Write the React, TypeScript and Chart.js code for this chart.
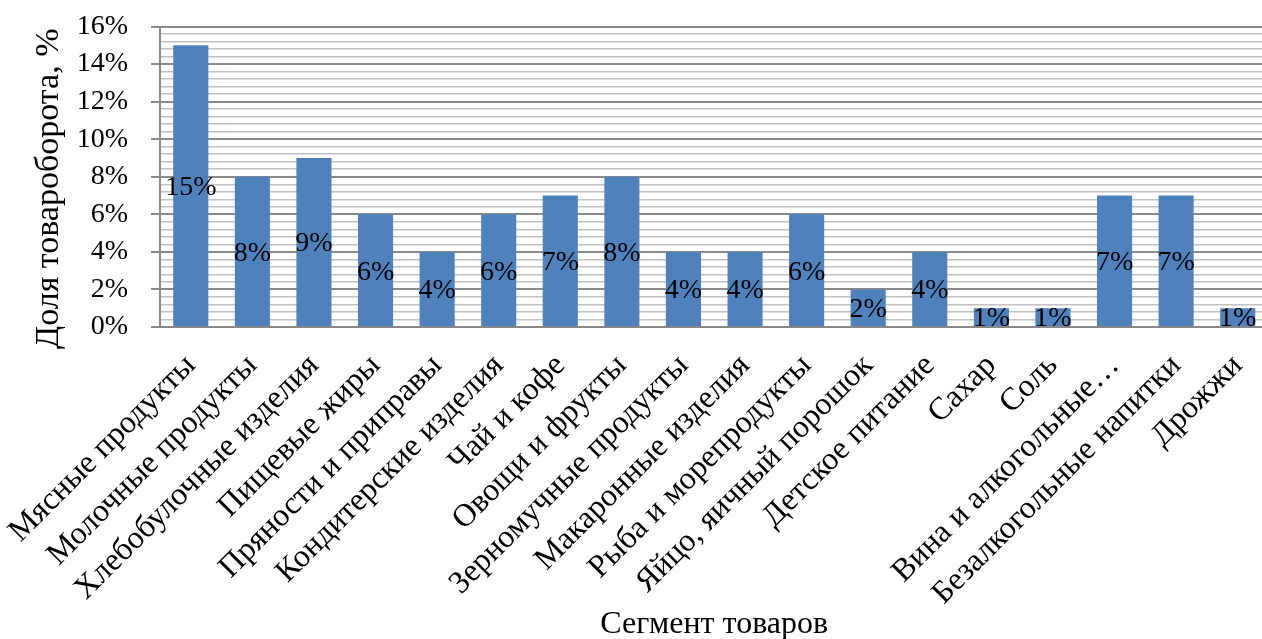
import React, { useEffect, useRef } from "react";
import { Chart, registerables } from "chart.js";

Chart.register(...registerables);

const categories = [
  "Мясные продукты",
  "Молочные продукты",
  "Хлебобулочные изделия",
  "Пищевые жиры",
  "Пряности и приправы",
  "Кондитерские изделия",
  "Чай и кофе",
  "Овощи и фрукты",
  "Зерномучные продукты",
  "Макаронные изделия",
  "Рыба и морепродукты",
  "Яйцо, яичный порошок",
  "Детское питание",
  "Сахар",
  "Соль",
  "Вина и алкогольные…",
  "Безалкогольные напитки",
  "Дрожжи",
];

const shares = [15, 8, 9, 6, 4, 6, 7, 8, 4, 4, 6, 2, 4, 1, 1, 7, 7, 1];

const yMin = 0;
const yMax = 16;
const yMinorStep = 0.4;
const yMajorStep = 2;

const yTitle = "Доля товароборота, %";
const xTitle = "Сегмент товаров";

const FONT = "'Liberation Serif', 'Times New Roman', serif";

const isMajor = (v: number) =>
  Math.abs(v / yMajorStep - Math.round(v / yMajorStep)) < 1e-6;

const barLabels = {
  id: "barLabels",
  afterDatasetsDraw(chart: any) {
    const ctx = chart.ctx;
    const meta = chart.getDatasetMeta(0);
    ctx.save();
    ctx.font = `28px ${FONT}`;
    ctx.fillStyle = "#000";
    ctx.textAlign = "center";
    ctx.textBaseline = "middle";
    meta.data.forEach((el: any, i: number) => {
      const v = chart.data.datasets[0].data[i];
      ctx.fillText(`${v}%`, el.x, (el.y + el.base) / 2 + 2);
    });
    ctx.restore();
  },
};

// draws the y-axis title centred at a chosen point along the axis
const yTitlePlugin = {
  id: "yTitlePlugin",
  afterDraw(chart: any) {
    const ctx = chart.ctx;
    const area = chart.chartArea;
    ctx.save();
    ctx.font = `34px ${FONT}`;
    ctx.fillStyle = "#000";
    ctx.textAlign = "center";
    ctx.textBaseline = "middle";
    ctx.translate(49, (area.top + area.bottom) / 2 + 12);
    ctx.rotate(-Math.PI / 2);
    ctx.fillText(yTitle, 0, 0);
    ctx.restore();
  },
};

export default function App() {
  const ref = useRef<HTMLCanvasElement | null>(null);

  useEffect(() => {
    if (!ref.current) return;
    const chart = new Chart(ref.current, {
      type: "bar",
      data: {
        labels: categories,
        datasets: [
          {
            data: shares,
            backgroundColor: "#4f81bd",
            categoryPercentage: 1,
            barPercentage: 0.57,
          },
        ],
      },
      options: {
        responsive: false,
        animation: false,
        devicePixelRatio: 1,
        layout: { padding: { top: 26.5, right: 21.5, bottom: 0, left: 0 } },
        plugins: {
          legend: { display: false },
          tooltip: { enabled: false },
        },
        scales: {
          x: {
            grid: { display: false, drawTicks: false },
            border: { display: true, color: "#888888", width: 2 },
            ticks: {
              color: "#000",
              font: { family: FONT, size: 32 },
              maxRotation: 45,
              minRotation: 45,
              autoSkip: false,
              padding: 20,
            },
            title: {
              display: true,
              text: xTitle,
              color: "#000",
              font: { family: FONT, size: 32, lineHeight: 0.9 },
              padding: { top: 0, bottom: 0 },
            },
            afterFit: (s: any) => {
              s.height = 312;
              s.paddingLeft = 0;
              s.paddingRight = 0;
            },
          },
          y: {
            min: yMin,
            max: yMax,
            grid: {
              color: (c: any) => (isMajor(c.tick.value) ? "#8a8a8a" : "#c2c2c2"),
              lineWidth: (c: any) => (isMajor(c.tick.value) ? 2 : 1.5),
              tickColor: (c: any) =>
                isMajor(c.tick.value) ? "#8a8a8a" : "rgba(0,0,0,0)",
              tickLength: 9,
            },
            border: { display: true, color: "#8a8a8a", width: 2 },
            ticks: {
              stepSize: yMinorStep,
              autoSkip: false,
              color: "#000",
              font: { family: FONT, size: 28 },
              padding: 23,
              callback: (v: any) =>
                isMajor(Number(v)) ? `${Math.round(Number(v))}%` : "",
            },
            afterFit: (s: any) => {
              s.width = 160;
              s.paddingTop = 0;
              s.paddingBottom = 0;
            },
          },
        },
      },
      plugins: [barLabels, yTitlePlugin],
    });
    return () => chart.destroy();
  }, []);

  return (
    <div
      style={{
        position: "fixed",
        left: 0,
        top: 0,
        width: 1262,
        height: 639,
        overflow: "hidden",
        background: "#fff",
      }}
    >
      <canvas
        ref={ref}
        width={1290}
        height={639}
        style={{ width: 1290, height: 639, display: "block" }}
      />
    </div>
  );
}
